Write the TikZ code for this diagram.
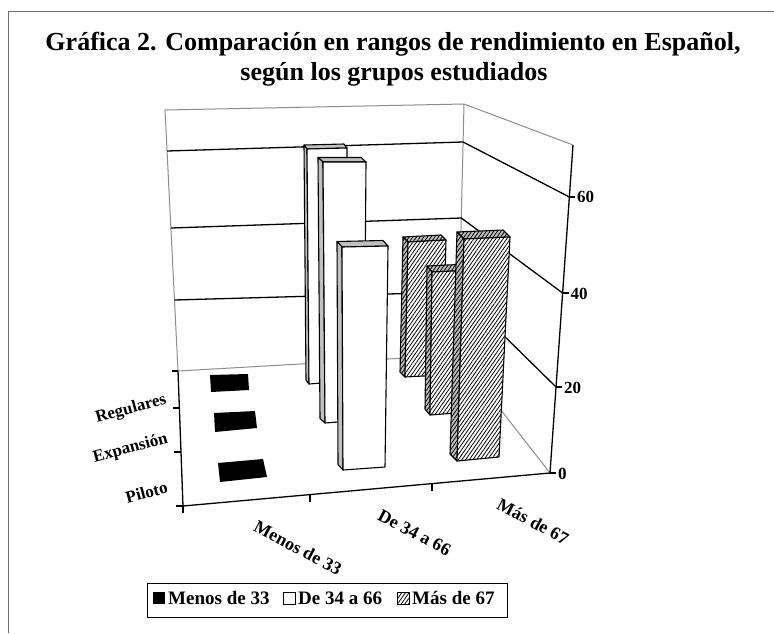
\documentclass[tikz,border=0pt]{standalone}
\usepackage{fontspec}
\setmainfont{Liberation Serif}
\usetikzlibrary{calc,patterns.meta}
\definecolor{wallgray}{HTML}{8C8C8C}
\definecolor{facegray}{HTML}{C0C0C0}
\definecolor{framegray}{HTML}{6E6E6E}
\tikzset{
  wall/.style={draw=wallgray,line width=1pt},
  gridl/.style={draw=black,line width=1.3pt},
  axisl/.style={draw=black,line width=1.3pt,line join=round},
  tickl/.style={draw=black,line width=1.2pt},
  wfront/.style={draw=black,line width=1.1pt,line join=round,fill=white},
  wface/.style={draw=black,line width=1.1pt,line join=round,fill=facegray},
  hfront/.style={draw=black,line width=1.1pt,line join=round,preaction={fill=white},pattern={Lines[angle=55,distance=3pt,line width=0.8pt]}},
  hface/.style={draw=black,line width=1.1pt,line join=round,preaction={fill=facegray},pattern={Lines[angle=55,distance=3pt,line width=0.8pt]}},
  slab/.style={fill=black},
  ttl/.style={font=\fontsize{26}{31}\selectfont\bfseries,inner sep=0pt},
  rowlab/.style={font=\fontsize{17}{20}\selectfont\bfseries,inner sep=0pt,rotate=15},
  catlab/.style={font=\fontsize{18}{21}\selectfont\bfseries,inner sep=0pt,rotate=-28},
  vallab/.style={font=\fontsize{17}{20}\selectfont\bfseries,inner sep=1pt,anchor=west},
  leglab/.style={font=\fontsize{19}{22}\selectfont\bfseries,inner sep=0pt,anchor=base west},
}
\newcommand{\barbox}[7]{%
  \path[#2] #3 -- #4 -- ($#4+#7$) -- ($#3+#7$) -- cycle;
  \path[#2] #3 -- ($#3+#7$) -- ($#6+#7$) -- #6 -- cycle;
  \path[#1] #3 -- #4 -- #5 -- #6 -- cycle;
}
\begin{document}
\begin{tikzpicture}[x=1pt,y=-1pt]
\useasboundingbox (0,0) rectangle (774,633);
\fill[white] (0,0) rectangle (774,633);
\draw[framegray,line width=1pt] (8,633) -- (8,11) -- (774,11);

% title
\node[ttl,anchor=base] (t1) at (393,50) {Gráfica 2. Comparación en rangos de rendimiento en Español,};
\node[ttl,anchor=base] (t2) at (394,80) {según los grupos estudiados};

% walls and floor
\coordinate (wtl) at (165,110);
\coordinate (wtr) at (464,104);
\coordinate (wbl) at (178,371);
\coordinate (wbr) at (458,355);
\coordinate (stop) at (573,145);
\coordinate (ffl) at (183,506);
\coordinate (ffr) at (550,473);
\draw[wall] (wbl) -- (wtl) -- (wtr) -- (stop);
\draw[wall] (wtr) -- (wbr);
\draw[wall] (wbl) -- (wbr) -- (ffr);

% gridlines
\draw[gridl] (167,151) -- (463.1,142) -- (569.4,197);
\draw[gridl] (171,228) -- (461.3,218) -- (562.6,293);
\draw[gridl] (174.5,300) -- (459.5,292) -- (556,387);

% axes
\draw[axisl] (wbl) -- (ffl) -- (ffr) -- (stop);

% ticks
\draw[tickl] (178,371) -- (172,371);
\draw[tickl] (179.4,408) -- (173,408);
\draw[tickl] (181,452) -- (174,452);
\draw[tickl] (183,506) -- (176,506);
\draw[tickl] (183,506) -- (183,513);
\draw[tickl] (310,494.6) -- (310,501.6);
\draw[tickl] (432,483.6) -- (432,490.6);
\draw[tickl] (569.4,197) -- (575.4,197);
\draw[tickl] (562.6,293) -- (568.6,293);
\draw[tickl] (556,387) -- (562,387);
\draw[tickl] (550,473) -- (556,473);

% value labels
\node[vallab] (v60) at (576,197) {60};
\node[vallab] (v40) at (569.5,294) {40};
\node[vallab] (v20) at (563,388) {20};
\node[vallab] (v0) at (557,474) {0};

% black slabs
\fill[slab] (210,375) -- (248,374) -- (249,390) -- (211,392) -- cycle;
\fill[slab] (214,413) -- (255,411) -- (257,428) -- (215,432) -- cycle;
\fill[slab] (218,463) -- (263,459) -- (267,477) -- (220,482) -- cycle;

% bars, back to front
\barbox{wfront}{wface}{(307,149)}{(347,148)}{(346,381)}{(309,384)}{(-3,-4)}
\barbox{hfront}{hface}{(408,242)}{(446,240)}{(442,375)}{(405,377)}{(-5,-5)}
\barbox{wfront}{wface}{(323,162)}{(366,162)}{(364,420)}{(325,423)}{(-5,-4.5)}
\barbox{hfront}{hface}{(432,272)}{(474,270)}{(469,412)}{(430,415)}{(-5,-6)}
\barbox{wfront}{wface}{(342,247)}{(388,246)}{(385,467)}{(343,470)}{(-5,-5.5)}
\barbox{hfront}{hface}{(464,239)}{(510,237)}{(499,457)}{(457,461)}{(-7,-7)}

% row labels
\node[rowlab] (lreg) at (131,409.5) {Regulares};
\node[rowlab] (lexp) at (130.5,448.5) {Expansión};
\node[rowlab] (lpil) at (146.5,492.5) {Piloto};

% category labels
\node[catlab] (c1) at (298,548) {Menos de 33};
\node[catlab] (c2) at (414.5,532.5) {De 34 a 66};
\node[catlab] (c3) at (533,521.5) {Más de 67};

% legend
\draw[line width=1pt] (147,583) rectangle (507,617);
\fill[black] (153,592) rectangle (165,604);
\draw[line width=0.8pt,fill=white] (283,592) rectangle (295,604);
\path[hfront,line width=0.8pt] (397,592) rectangle (409,604);
\node[leglab] (k1) at (168,604) {Menos de 33};
\node[leglab] (k2) at (298,604) {De 34 a 66};
\node[leglab] (k3) at (412,604) {Más de 67};
\end{tikzpicture}
\end{document}
